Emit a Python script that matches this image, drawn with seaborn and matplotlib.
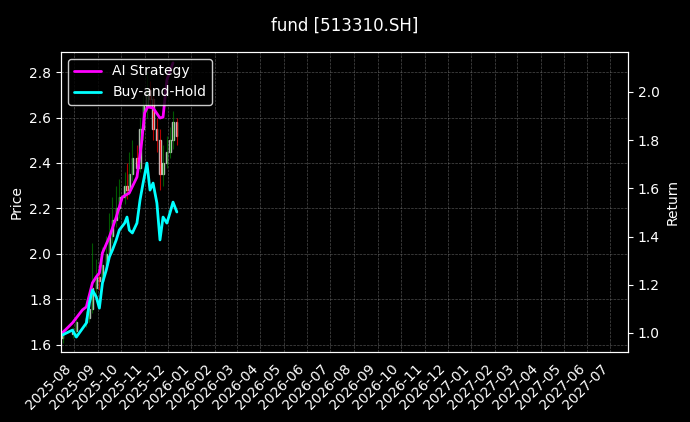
import numpy as np, pandas as pd, matplotlib
matplotlib.use("Agg")
import matplotlib.pyplot as plt, matplotlib.dates as mdates
import seaborn as sns

sns.set_style("dark")
plt.rcParams['font.family'] = ['DejaVu Sans']

bh_dates = ["2025-07-17","2025-07-30","2025-08-04","2025-08-17","2025-08-21","2025-08-25","2025-08-30","2025-09-03",
            "2025-09-07","2025-09-12","2025-09-16","2025-09-20","2025-09-25","2025-09-29","2025-10-06","2025-10-09",
            "2025-10-12","2025-10-16","2025-10-22","2025-10-26","2025-10-30","2025-11-04","2025-11-08","2025-11-12",
            "2025-11-17","2025-11-21","2025-11-25","2025-11-30","2025-12-04","2025-12-08","2025-12-13"]
bh_ret = [0.992,1.012,0.983,1.041,1.124,1.178,1.149,1.103,1.207,1.261,1.315,1.344,1.386,1.427,1.456,1.481,
          1.427,1.415,1.456,1.552,1.622,1.705,1.593,1.622,1.539,1.386,1.481,1.456,1.498,1.543,1.502]
ai_dates = ["2025-07-17","2025-07-30","2025-08-12","2025-08-17","2025-08-25","2025-08-30","2025-09-03","2025-09-07",
            "2025-09-16","2025-09-25","2025-10-03","2025-10-12","2025-10-22","2025-10-28","2025-11-01","2025-11-05",
            "2025-11-12","2025-11-21","2025-11-25","2025-11-30","2025-12-08"]
ai_ret = [1.001,1.042,1.096,1.108,1.208,1.233,1.249,1.332,1.398,1.481,1.564,1.581,1.647,1.788,1.913,1.938,
          1.934,1.892,1.896,2.050,2.121]

c_open  = [1.63,1.65,1.66,1.70,1.72,1.76,1.85,1.90,1.88,1.95,2.00,2.08,2.15,2.20,2.25,2.30,2.28,2.35,2.42,2.38,2.55,2.65,2.72,2.68,2.55,2.50,2.35,2.40,2.45,2.50,2.58]
c_close = [1.65,1.66,1.70,1.72,1.76,1.85,1.90,1.88,1.95,2.00,2.08,2.15,2.20,2.25,2.30,2.28,2.35,2.42,2.38,2.55,2.65,2.72,2.68,2.55,2.50,2.35,2.40,2.45,2.50,2.58,2.52]
c_high  = [1.67,1.68,1.72,1.75,1.80,2.05,1.98,1.95,2.03,2.08,2.18,2.25,2.30,2.33,2.36,2.40,2.45,2.50,2.48,2.60,2.70,2.80,2.76,2.70,2.60,2.55,2.48,2.52,2.56,2.63,2.60]
c_low   = [1.61,1.63,1.64,1.68,1.70,1.74,1.82,1.84,1.86,1.92,1.98,2.05,2.12,2.16,2.22,2.24,2.26,2.32,2.34,2.36,2.50,2.60,2.64,2.50,2.45,2.28,2.30,2.38,2.42,2.46,2.48]

bh_d = pd.to_datetime(bh_dates)
ai_d = pd.to_datetime(ai_dates)

fig = plt.figure(figsize=(6.9, 4.22), dpi=100, facecolor='black')
ax = fig.add_axes([61/690, 1-352/422, 567/690, 300/422], facecolor='black')
ax2 = ax.twinx()
for i, d in enumerate(bh_d):
    col = 'green' if c_close[i] >= c_open[i] else 'red'
    x = mdates.date2num(d)
    ax.vlines(x, c_low[i], c_high[i], color=col, lw=0.8, alpha=0.7)
    ax.bar(x, abs(c_close[i]-c_open[i]) or 0.005, bottom=min(c_open[i], c_close[i]), width=1.5, color=col, alpha=0.7)
sns.lineplot(x=ai_d, y=ai_ret, ax=ax2, color='magenta', lw=2, label='AI Strategy')
sns.lineplot(x=bh_d, y=bh_ret, ax=ax2, color='cyan', lw=2, label='Buy-and-Hold')

ax.set_ylim(1.569, 2.888)
ax2.set_ylim(0.921, 2.166)
ax.set_xlim(mdates.date2num(pd.Timestamp("2025-07-15")), mdates.date2num(pd.Timestamp("2027-07-24")))
ax.xaxis.set_major_locator(mdates.MonthLocator())
ax.xaxis.set_major_formatter(mdates.DateFormatter('%Y-%m'))
for t in ax.get_xticklabels():
    t.set_rotation(45); t.set_ha('right')
ax.grid(True, color='gray', ls='--', lw=0.5, alpha=0.6)
for a in (ax, ax2):
    a.tick_params(colors='white', labelsize=10, length=3.5, width=0.8)
    for s in a.spines.values():
        s.set_color('white')
ax.set_ylabel('Price', color='white')
ax2.set_ylabel('Return', color='white')
ax2.set_xlabel('')
leg = ax2.legend(loc='upper left', facecolor='black', edgecolor='white', fontsize=10)
for t in leg.get_texts():
    t.set_color('white')
fig.suptitle('fund [513310.SH]', color='white', fontsize=12, y=0.96)
fig.savefig('out.png', dpi=100, facecolor='black')
